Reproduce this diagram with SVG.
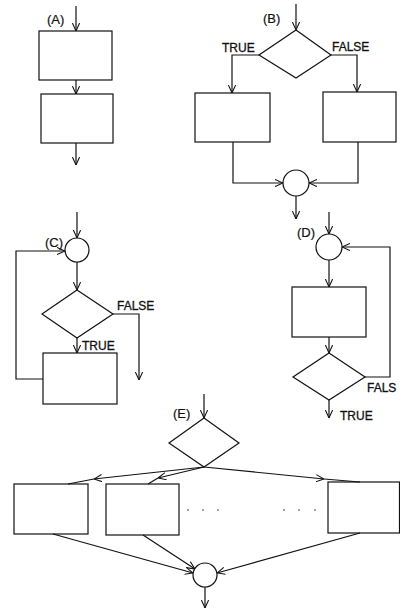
<svg xmlns="http://www.w3.org/2000/svg" width="400" height="610" viewBox="0 0 400 610">
<style>
.s{fill:none;stroke:#111;stroke-width:1.2}
.c{fill:none;stroke:#111;stroke-width:1.2;marker-end:url(#ah)}
.t{font-family:"Liberation Sans",Arial,sans-serif;font-size:12px;fill:#111;stroke:#111;stroke-width:0.3}
.l{font-family:"Liberation Sans",Arial,sans-serif;font-size:13px;fill:#111;stroke:#111;stroke-width:0.2}
.d{fill:#333}
</style>
<defs>
<marker id="ah" viewBox="0 0 10 10" refX="10" refY="5" markerWidth="8" markerHeight="8" orient="auto" markerUnits="userSpaceOnUse">
<path d="M0,0.5 L10,5 L0,9.5" fill="none" stroke="#111" stroke-width="1.3"/>
</marker>
</defs>
<rect width="400" height="610" fill="#fff"/>

<g id="A">
<text class="l" x="47" y="24">(A)</text>
<rect id="A-box1" class="s" x="39" y="31" width="73" height="49"/>
<rect id="A-box2" class="s" x="41" y="94" width="72" height="49"/>
</g>

<g id="B">
<text class="l" x="263" y="23">(B)</text>
<polygon id="B-dec" class="s" points="296,30 331,55 296,78 259,55"/>
<text class="t" x="222" y="52">TRUE</text>
<text class="t" x="332" y="51">FALSE</text>
<rect id="B-box1" class="s" x="195" y="93" width="75" height="49"/>
<rect id="B-box2" class="s" x="323" y="92" width="73" height="50"/>
<circle id="B-join" class="s" cx="296" cy="183" r="13"/>
</g>

<g id="C">
<text class="l" x="45" y="247">(C)</text>
<circle id="C-join" class="s" cx="77" cy="250" r="12"/>
<polygon id="C-dec" class="s" points="77,290 113,314 77,338 42,314"/>
<text class="t" x="117" y="310">FALSE</text>
<text class="t" x="82" y="350">TRUE</text>
<rect id="C-box" class="s" x="43" y="353" width="74" height="51"/>
</g>

<g id="D">
<text class="l" x="297" y="237">(D)</text>
<circle id="D-join" class="s" cx="329" cy="247" r="13"/>
<rect id="D-box" class="s" x="292" y="287" width="74" height="50"/>
<polygon id="D-dec" class="s" points="329,353 365,377 329,400 293,377"/>
<text class="t" x="367" y="392">FALS</text>
<text class="t" x="340" y="420">TRUE</text>
</g>

<g id="E">
<text class="l" x="173" y="418">(E)</text>
<polygon id="E-dec" class="s" points="204,418 239,443 204,467 169,443"/>
<rect id="E-box1" class="s" x="14" y="484" width="74" height="50"/>
<rect id="E-box2" class="s" x="106" y="484" width="73" height="51"/>
<rect id="E-box3" class="s" x="328" y="482" width="71.5" height="51"/>
<circle class="d" cx="188" cy="510" r="0.8"/>
<circle class="d" cx="203" cy="510" r="0.8"/>
<circle class="d" cx="218" cy="510" r="0.8"/>
<circle class="d" cx="284" cy="510" r="0.8"/>
<circle class="d" cx="299" cy="510" r="0.8"/>
<circle class="d" cx="315" cy="510" r="0.8"/>
<circle id="E-join" class="s" cx="205" cy="575" r="12"/>
</g>

<g id="connectors">
<line class="c" x1="76" y1="6" x2="76" y2="31"/>
<line class="c" x1="76" y1="80" x2="76" y2="94"/>
<line class="c" x1="76" y1="143" x2="76" y2="165"/>

<line class="c" x1="296" y1="4" x2="296" y2="30"/>
<path class="c" d="M259,55 H232 V93"/>
<path class="c" d="M331,55 H357 V92"/>
<path class="c" d="M233,142 V183 H283"/>
<path class="c" d="M358,142 V183 H309"/>
<line class="c" x1="296" y1="196" x2="296" y2="219"/>

<line class="c" x1="77" y1="212" x2="77" y2="238"/>
<line class="c" x1="77" y1="262" x2="77" y2="290"/>
<path class="c" d="M113,314 H139 V380"/>
<line class="c" x1="77" y1="338" x2="77" y2="353"/>
<path class="c" d="M43,379 H16 V251 H65"/>

<line class="c" x1="329" y1="212" x2="329" y2="234"/>
<line class="c" x1="329" y1="260" x2="329" y2="287"/>
<line class="c" x1="329" y1="337" x2="329" y2="353"/>
<path class="c" d="M365,377 H390 V247 H342"/>
<line class="c" x1="329" y1="400" x2="329" y2="418"/>

<line class="c" x1="204" y1="394" x2="204" y2="418"/>
<line class="c" x1="204" y1="467" x2="94" y2="479"/>
<line class="s" x1="94" y1="479" x2="68" y2="484"/>
<line class="c" x1="204" y1="467" x2="158" y2="478"/>
<line class="s" x1="158" y1="478" x2="148" y2="484"/>
<line class="c" x1="204" y1="467" x2="324" y2="479"/>
<line class="s" x1="324" y1="479" x2="360" y2="482"/>
<line class="c" x1="53" y1="534" x2="193" y2="573"/>
<line class="c" x1="143" y1="535" x2="195" y2="569"/>
<line class="c" x1="360" y1="533" x2="217" y2="573"/>
<line class="c" x1="205" y1="587" x2="205" y2="608"/>
</g>
</svg>
